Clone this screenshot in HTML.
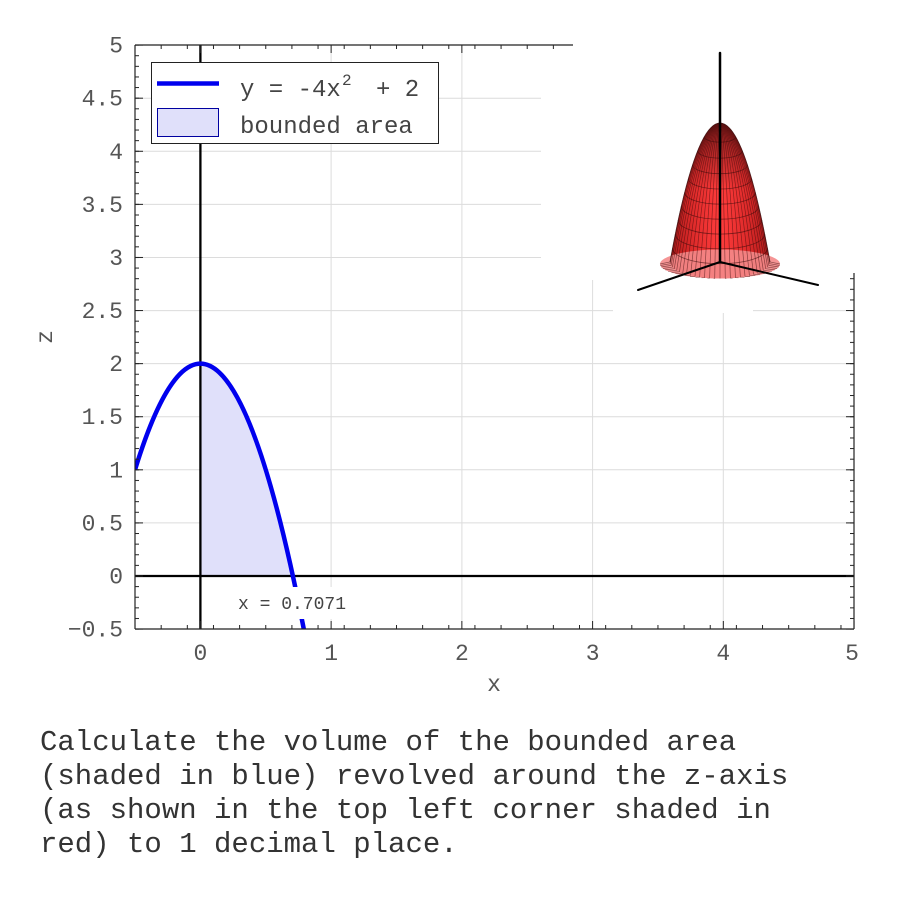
<!DOCTYPE html>
<html><head><meta charset="utf-8"><style>
html,body{margin:0;padding:0;background:#fff;}
svg{display:block;}
text{font-family:"Liberation Mono","DejaVu Sans Mono",monospace;}
</style></head><body>
<svg width="900" height="900" viewBox="0 0 900 900" xmlns="http://www.w3.org/2000/svg">
<defs>
<clipPath id="plot"><rect x="135" y="45" width="719" height="584"/></clipPath>
<pattern id="pyMin" patternUnits="userSpaceOnUse" x="0" y="44.6" width="20" height="10.618"><rect x="0" y="0" width="20" height="1" fill="#222"/></pattern>
<pattern id="pyMaj" patternUnits="userSpaceOnUse" x="0" y="44.6" width="20" height="53.09"><rect x="0" y="0" width="20" height="1" fill="#222"/></pattern>
<pattern id="pxMin" patternUnits="userSpaceOnUse" x="134.53" y="0" width="26.146" height="20"><rect x="0" y="0" width="1" height="20" fill="#222"/></pattern>
<pattern id="pxMaj" patternUnits="userSpaceOnUse" x="199.9" y="0" width="130.73" height="20"><rect x="0" y="0" width="1" height="20" fill="#222"/></pattern>
<linearGradient id="bodyH" gradientUnits="userSpaceOnUse" x1="670" y1="0" x2="770" y2="0">
<stop offset="0" stop-color="#b01a1a"/><stop offset="0.25" stop-color="#e22c2c"/><stop offset="0.5" stop-color="#ff3c3c"/><stop offset="0.75" stop-color="#e22c2c"/><stop offset="1" stop-color="#b01a1a"/>
</linearGradient>
<linearGradient id="bodyV" gradientUnits="userSpaceOnUse" x1="0" y1="123" x2="0" y2="190">
<stop offset="0" stop-color="#200000" stop-opacity="0.55"/><stop offset="1" stop-color="#200000" stop-opacity="0"/>
</linearGradient>
</defs>

<!-- gridlines -->
<g stroke="#dcdcdc" stroke-width="1">
<line x1="331.1" y1="45" x2="331.1" y2="629"/>
<line x1="461.9" y1="45" x2="461.9" y2="629"/>
<line x1="592.6" y1="45" x2="592.6" y2="629"/>
<line x1="723.3" y1="45" x2="723.3" y2="629"/>
<line x1="135" y1="522.9" x2="854" y2="522.9"/>
<line x1="135" y1="469.8" x2="854" y2="469.8"/>
<line x1="135" y1="416.7" x2="854" y2="416.7"/>
<line x1="135" y1="363.6" x2="854" y2="363.6"/>
<line x1="135" y1="310.6" x2="854" y2="310.6"/>
<line x1="135" y1="257.5" x2="854" y2="257.5"/>
<line x1="135" y1="204.4" x2="854" y2="204.4"/>
<line x1="135" y1="151.3" x2="854" y2="151.3"/>
<line x1="135" y1="98.2" x2="854" y2="98.2"/>
</g>

<!-- bounded area -->
<path d="M200.4,576 L200.4,363.6 Q246.6,363.6 292.8,576 Z" fill="#e0e0fa"/>

<!-- axis lines -->
<line x1="135" y1="576" x2="854" y2="576" stroke="#000" stroke-width="2.3"/>
<line x1="200.4" y1="45" x2="200.4" y2="629" stroke="#000" stroke-width="2.3"/>

<!-- curve -->
<g clip-path="url(#plot)">
<path d="M135,469.8 Q219.4,195.8 303.8,629.1" fill="none" stroke="#0000ee" stroke-width="4.5"/>
</g>

<!-- label -->
<rect x="232" y="587" width="122" height="32" fill="#fff"/>
<text x="238" y="609" font-size="18" fill="#444">x = 0.7071</text>

<!-- frame -->
<g stroke="#222" stroke-width="1.2" fill="none">
<line x1="135" y1="45" x2="135" y2="629"/>
<line x1="135" y1="629" x2="854" y2="629"/>
<line x1="135" y1="45" x2="573" y2="45"/>
<line x1="854" y1="273" x2="854" y2="629"/>
</g>
<!-- ticks -->
<rect x="135" y="45" width="4" height="585" fill="url(#pyMin)"/>
<rect x="135" y="45" width="8" height="585" fill="url(#pyMaj)"/>
<rect x="850" y="273" width="4" height="357" fill="url(#pyMin)"/>
<rect x="846" y="273" width="8" height="357" fill="url(#pyMaj)"/>
<rect x="135" y="625" width="720" height="4" fill="url(#pxMin)"/>
<rect x="135" y="621" width="720" height="8" fill="url(#pxMaj)"/>
<rect x="135" y="45" width="438" height="4" fill="url(#pxMin)"/>
<rect x="135" y="45" width="438" height="8" fill="url(#pxMaj)"/>

<!-- tick labels -->
<g font-size="23" fill="#555" text-anchor="end">
<text x="123" y="52.6">5</text>
<text x="123" y="105.7">4.5</text>
<text x="123" y="158.8">4</text>
<text x="123" y="211.9">3.5</text>
<text x="123" y="265">3</text>
<text x="123" y="318.1">2.5</text>
<text x="123" y="371.1">2</text>
<text x="123" y="424.2">1.5</text>
<text x="123" y="477.3">1</text>
<text x="123" y="530.4">0.5</text>
<text x="123" y="583.5">0</text>
<text x="123" y="636.6">−0.5</text>
</g>
<g font-size="23" fill="#555" text-anchor="middle">
<text x="200.4" y="660">0</text>
<text x="331.1" y="660">1</text>
<text x="461.9" y="660">2</text>
<text x="592.6" y="660">3</text>
<text x="723.3" y="660">4</text>
<text x="852" y="660">5</text>
<text x="494" y="691">x</text>
<text transform="translate(52,337) rotate(-90)">z</text>
</g>

<!-- inset white background -->
<g fill="#fff">
<rect x="541" y="50" width="32" height="230"/>
<rect x="573" y="38" width="47" height="242"/>
<rect x="620" y="38" width="240" height="235"/>
<rect x="613" y="273" width="140" height="40"/>
</g>

<!-- 3D paraboloid -->
<path d="M670,262 Q695,123 720,123 Q745,123 770,262 A50,16.5 0 0 1 670,262 Z" fill="url(#bodyH)"/>
<path d="M670,262 Q695,123 720,123 Q745,123 770,262 A50,16.5 0 0 1 670,262 Z" fill="url(#bodyV)"/>
<ellipse cx="720" cy="264" rx="60" ry="14.5" fill="#f48a8a" opacity="0.9"/>
<g fill="none" stroke="#3a0a0a" stroke-width="0.7" opacity="0.55">
<path d="M720,123 Q745,123 770,262 L780,264"/>
<path d="M720,123 Q744.9,123.9 769.8,263.7 L779.7,265.5"/>
<path d="M720,123 Q744.5,124.7 768.9,265.4 L778.7,267"/>
<path d="M720,123 Q743.8,125.5 767.6,267.1 L777.1,268.5"/>
<path d="M720,123 Q742.9,126.4 765.7,268.7 L774.8,269.9"/>
<path d="M720,123 Q741.7,127.1 763.3,270.3 L772,271.3"/>
<path d="M720,123 Q740.2,127.9 760.5,271.7 L768.5,272.5"/>
<path d="M720,123 Q738.6,128.5 757.2,273 L764.6,273.7"/>
<path d="M720,123 Q736.7,129.1 753.5,274.3 L760.1,274.8"/>
<path d="M720,123 Q734.7,129.7 749.4,275.3 L755.3,275.7"/>
<path d="M720,123 Q732.5,130.1 745,276.3 L750,276.6"/>
<path d="M720,123 Q730.2,130.5 740.4,277.1 L744.4,277.3"/>
<path d="M720,123 Q727.7,130.8 735.5,277.7 L738.5,277.8"/>
<path d="M720,123 Q725.2,131.1 730.4,278.1 L732.5,278.2"/>
<path d="M720,123 Q722.6,131.2 725.3,278.4 L726.3,278.4"/>
<path d="M720,123 Q720,131.3 720,278.5"/>
<path d="M720,123 Q717.4,131.2 714.7,278.4 L713.7,278.4"/>
<path d="M720,123 Q714.8,131.1 709.6,278.1 L707.5,278.2"/>
<path d="M720,123 Q712.3,130.8 704.5,277.7 L701.5,277.8"/>
<path d="M720,123 Q709.8,130.5 699.6,277.1 L695.6,277.3"/>
<path d="M720,123 Q707.5,130.1 695,276.3 L690,276.6"/>
<path d="M720,123 Q705.3,129.7 690.6,275.3 L684.7,275.7"/>
<path d="M720,123 Q703.3,129.1 686.5,274.3 L679.9,274.8"/>
<path d="M720,123 Q701.4,128.5 682.8,273 L675.4,273.7"/>
<path d="M720,123 Q699.8,127.9 679.5,271.7 L671.5,272.5"/>
<path d="M720,123 Q698.3,127.1 676.7,270.3 L668,271.3"/>
<path d="M720,123 Q697.1,126.4 674.3,268.7 L665.2,269.9"/>
<path d="M720,123 Q696.2,125.5 672.4,267.1 L662.9,268.5"/>
<path d="M720,123 Q695.5,124.7 671.1,265.4 L661.3,267"/>
<path d="M720,123 Q695.1,123.9 670.2,263.7 L660.3,265.5"/>
<path d="M720,123 Q695,123 670,262 L660,264"/>
</g>
<g fill="none" stroke="#3a0a0a" stroke-width="0.8" opacity="0.6">
<path d="M704.2,136.9 A15.8,5.2 0 0 0 735.8,136.9"/>
<path d="M697.6,150.8 A22.4,7.4 0 0 0 742.4,150.8"/>
<path d="M692.6,164.7 A27.4,9 0 0 0 747.4,164.7"/>
<path d="M688.4,178.6 A31.6,10.4 0 0 0 751.6,178.6"/>
<path d="M684.65,192.5 A35.35,11.65 0 0 0 755.35,192.5"/>
<path d="M681.3,206.4 A38.7,12.8 0 0 0 758.7,206.4"/>
<path d="M678.2,220.3 A41.8,13.8 0 0 0 761.8,220.3"/>
<path d="M675.3,234.2 A44.7,14.7 0 0 0 764.7,234.2"/>
<path d="M672.6,248.1 A47.4,15.6 0 0 0 767.4,248.1"/>
</g>
<path d="M670,262 Q695,123 720,123 Q745,123 770,262" fill="none" stroke="#300808" stroke-width="0.8" opacity="0.6"/>
<g stroke="#000" stroke-linecap="round">
<line x1="720" y1="53" x2="720" y2="262" stroke-width="2.5"/>
<line x1="720" y1="262" x2="638" y2="290" stroke-width="2"/>
<line x1="720" y1="262" x2="818" y2="285" stroke-width="2"/>
</g>

<!-- legend -->
<rect x="151.5" y="62.5" width="287" height="81" fill="#fff" stroke="#222" stroke-width="1"/>
<line x1="157" y1="83.5" x2="219" y2="83.5" stroke="#0000ee" stroke-width="4.5"/>
<rect x="157.5" y="108.5" width="61" height="28" fill="#e0e0fa" stroke="#0000a0" stroke-width="1"/>
<g font-size="24" fill="#444">
<text x="240" y="96">y = -4x</text>
<text x="342" y="85" font-size="16">2</text>
<text x="376" y="96">+ 2</text>
<text x="240" y="133">bounded area</text>
</g>

<!-- question text -->
<g font-size="29" fill="#333">
<text x="40" y="750">Calculate the volume of the bounded area</text>
<text x="40" y="784">(shaded in blue) revolved around the z-axis</text>
<text x="40" y="818">(as shown in the top left corner shaded in</text>
<text x="40" y="852">red) to 1 decimal place.</text>
</g>
</svg>
</body></html>
